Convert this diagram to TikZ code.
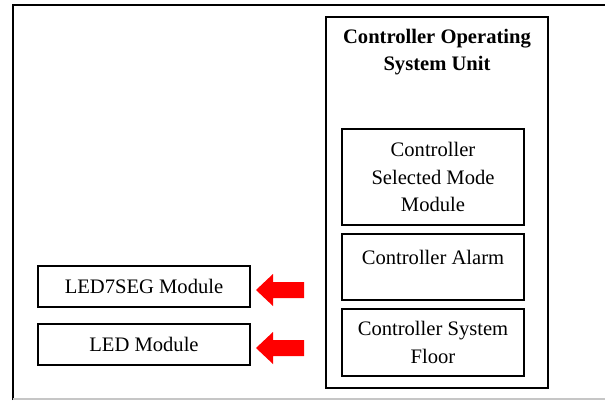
\documentclass[tikz,border=0pt]{standalone}
\usepackage{fontspec}
\setmainfont{Liberation Serif}
\begin{document}
\begin{tikzpicture}[x=1pt,y=-1pt,
  box/.style={draw=black,line width=1.4pt,inner sep=0pt,fill=none},
  txt/.style={font=\fontsize{20.6}{27.5}\selectfont,align=center,inner sep=0pt},
  redarrow/.style={fill=red,draw=none}]
\useasboundingbox (0,0) rectangle (605,400);
% outer frame
\draw[line width=1.8pt] (13,400) -- (13,5) -- (605,5);
\draw[gray!45,line width=1.2pt] (13,399) -- (605,399);
% unit box
\node[box,minimum width=222pt,minimum height=371pt] (unit) at (437,202.5) {};
\node[txt,font=\fontsize{20.6}{27.5}\selectfont\bfseries] (title) at ([yshift=-36pt]unit.north) {Controller Operating\\System Unit};
% inner boxes
\node[box,minimum width=182pt,minimum height=96pt] (mode) at (433,177) {};
\node[txt] (modet) at (mode.center) {Controller\\Selected Mode\\Module};
\node[box,minimum width=182pt,minimum height=66pt] (alarm) at (433,267) {};
\node[txt] (alarmt) at ([yshift=-24pt]alarm.north) {Controller Alarm};
\node[box,minimum width=182pt,minimum height=67pt] (floor) at (433,342.5) {};
\node[txt] (floort) at (floor.center) {Controller System\\Floor};
% left modules
\node[box,minimum width=212pt,minimum height=41pt] (seg) at (144,286.5) {};
\node[txt] (segt) at (seg.center) {LED7SEG Module};
\node[box,minimum width=212pt,minimum height=41pt] (led) at (144,344.5) {};
\node[txt] (ledt) at (led.center) {LED Module};
% red block arrows
\fill[redarrow] (256,290) -- (273,274) -- (273,282) -- (304,282) -- (304,298) -- (273,298) -- (273,306) -- cycle;
\fill[redarrow] (256,348) -- (273,332) -- (273,340) -- (304,340) -- (304,356) -- (273,356) -- (273,364) -- cycle;
\end{tikzpicture}
\end{document}
